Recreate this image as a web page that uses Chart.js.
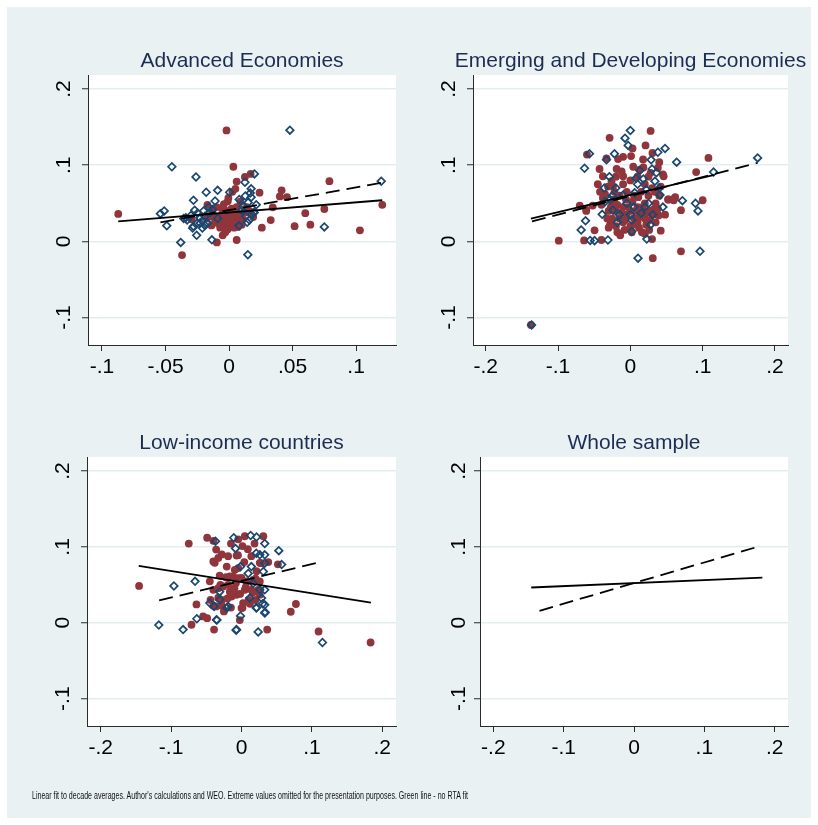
<!DOCTYPE html>
<html>
<head>
<meta charset="utf-8">
<title>Linear fits to decade averages</title>
<script src="https://cdn.jsdelivr.net/npm/chart.js@4.4.1/dist/chart.umd.min.js"></script>
<style>
  html, body { margin: 0; padding: 0; background: #ffffff; }
  #frame { position: relative; width: 818px; height: 825px; overflow: hidden; }
  #bg { position: absolute; left: 7px; top: 7px; width: 804px; height: 811px; background: #e9f1f3; }
  canvas { position: absolute; }
  #note {
    position: absolute; left: 32px; top: 790px;
    font: 11px "Liberation Sans", Arial, Helvetica, sans-serif; line-height: 1;
    color: #111; white-space: nowrap; transform-origin: 0 0;
  }
</style>
</head>
<body>
<div id="frame">
  <div id="bg"></div>
  <canvas id="cAdv" width="409" height="410" style="left:0px;top:0px"></canvas>
  <canvas id="cEme" width="409" height="410" style="left:409px;top:0px"></canvas>
  <canvas id="cLow" width="409" height="400" style="left:0px;top:410px"></canvas>
  <canvas id="cAll" width="409" height="400" style="left:409px;top:410px"></canvas>
  <div id="note">Linear fit to decade averages. Author's calculations and WEO. Extreme values omitted for the presentation purposes. Green line - no RTA fit</div>
</div>
<script>
// ---------------- data ----------------
// Panel titles
const titles = ['Advanced Economies', 'Emerging and Developing Economies', 'Low-income countries', 'Whole sample'];

// Axis ticks and their printed labels
const yTicks = [-0.1, 0, 0.1, 0.2];
const yTickLabels = ['-.1', '0', '.1', '.2'];
const xTicksAdv = [-0.1, -0.05, 0, 0.05, 0.1];
const xTickLabelsAdv = ['-.1', '-.05', '0', '.05', '.1'];
const xTicksWide = [-0.2, -0.1, 0, 0.1, 0.2];
const xTickLabelsWide = ['-.2', '-.1', '0', '.1', '.2'];

// Advanced economies: hollow diamonds [x, y]
const advDiamonds = [
  [0.0479, 0.146], [-0.045, 0.098], [-0.026, 0.0846], [0.020, 0.0886], [0.0125, 0.0776],
  [0.0174, 0.069], [-0.009, 0.067], [-0.018, 0.0645], [-0.011, 0.053], [-0.028, 0.054],
  [0.0005, 0.0645], [0.1198, 0.079], [0.075, 0.019], [0.0148, -0.0175], [-0.038, -0.0013],
  [-0.0135, 0.002], [-0.0255, 0.008], [-0.049, 0.0206], [-0.054, 0.0364], [-0.051, 0.040],
  [-0.0357, 0.030], [-0.028, 0.0197], [-0.021, 0.0175], [0.0078, 0.0206], [0.0143, 0.025],
  [0.018, 0.0355], [0.0195, 0.038], [0.0214, 0.048], [0.0174, 0.058], [0.0128, 0.0596],
  [-0.0247, 0.037], [0.011, 0.046], [-0.023, 0.031], [-0.021, 0.027], [-0.019, 0.033],
  [-0.017, 0.024], [-0.015, 0.038], [-0.013, 0.042], [-0.025, 0.024], [-0.030, 0.034],
  [-0.033, 0.028], [-0.020, 0.040], [-0.016, 0.045], [-0.009, 0.030], [0.013, 0.033],
  [0.016, 0.028], [0.010, 0.041], [0.015, 0.051], [0.008, 0.055], [-0.027, 0.041],
  [-0.034, 0.031], [-0.019, 0.021], [-0.0287, 0.0176], [-0.0227, 0.024], [0.0198, 0.038],
  [0.0167, 0.0634]
];
// Advanced economies: filled circles [x, y]
const advCircles = [
  [-0.0872, 0.036], [-0.002, 0.1456], [0.0034, 0.098], [-0.037, -0.018], [0.079, 0.079],
  [0.1206, 0.048], [0.103, 0.0145], [0.075, 0.0425], [0.060, 0.037], [0.064, 0.022],
  [0.0516, 0.020], [0.0414, 0.067], [0.040, 0.059], [0.0456, 0.058], [0.0344, 0.0447],
  [0.0328, 0.028], [0.0258, 0.018], [0.024, 0.064], [0.017, 0.0886], [0.0125, 0.0846],
  [0.006, 0.0785], [0.005, 0.069], [0.0026, 0.065], [-0.0005, 0.057], [-0.001, 0.0526],
  [0.009, 0.052], [0.006, 0.0018], [-0.005, 0.008], [-0.0096, -0.0013], [-0.0138, 0.021],
  [-0.017, 0.048], [-0.0294, 0.029], [0.0117, 0.039], [-0.006, 0.035], [-0.003, 0.030],
  [0.000, 0.033], [0.003, 0.028], [0.006, 0.031], [-0.004, 0.022], [0.001, 0.020],
  [0.004, 0.024], [0.008, 0.026], [-0.008, 0.028], [-0.002, 0.040], [0.002, 0.043],
  [0.005, 0.038], [-0.006, 0.044], [0.009, 0.034], [0.011, 0.029], [-0.001, 0.016],
  [-0.007, 0.018], [0.007, 0.019], [0.003, 0.036], [-0.012, 0.034], [-0.0175, 0.030],
  [-0.015, 0.033], [0.014, 0.045], [0.016, 0.040], [-0.004, 0.049], [-0.010, 0.045],
  [-0.009, 0.024], [-0.003, 0.026], [0.002, 0.031], [0.007, 0.036], [0.004, 0.018],
  [-0.005, 0.031], [0.000, 0.025], [0.010, 0.022], [-0.011, 0.027], [0.013, 0.038],
  [0.001, 0.037], [-0.003, 0.012], [0.006, 0.045], [0.019, 0.032], [-0.013, 0.040]
];
const advSolidFit = [[-0.0872, 0.0263], [0.1206, 0.054]];
const advDashedFit = [[-0.054, 0.025], [0.1198, 0.0768]];

// Emerging and developing economies
const emeDiamonds = [
  [-0.1366, -0.1096], [0.000, 0.1456], [-0.0074, 0.1355], [-0.003, 0.126], [-0.0565, 0.115],
  [-0.022, 0.115], [0.048, 0.122], [0.038, 0.117], [0.0287, 0.107], [0.064, 0.104],
  [0.176, 0.1096], [0.115, 0.091], [-0.0634, 0.096], [0.072, 0.0535], [0.090, 0.050],
  [0.0935, 0.040], [0.0963, -0.013], [0.0106, -0.022], [0.0227, 0.003], [0.0019, 0.013],
  [-0.031, 0.0018], [-0.0495, 0.001], [-0.0556, 0.0013], [-0.068, 0.015], [-0.062, 0.027],
  [-0.039, 0.0355], [-0.033, 0.107], [-0.029, 0.085], [-0.036, 0.070], [-0.035, 0.052],
  [-0.024, 0.041], [-0.010, 0.061], [0.006, 0.064], [0.022, 0.068], [0.034, 0.079],
  [0.041, 0.061], [0.031, 0.035], [0.028, 0.022], [0.015, 0.037], [0.036, 0.090],
  [0.030, 0.095], [0.013, 0.093], [-0.005, 0.050], [0.005, 0.045], [-0.015, 0.035],
  [0.025, 0.050], [-0.020, 0.070], [0.010, 0.075], [0.045, 0.045], [-0.028, 0.055],
  [0.018, 0.082], [0.002, 0.028], [-0.018, 0.025], [0.000, 0.035], [0.020, 0.045],
  [-0.025, 0.060], [0.008, 0.083], [0.040, 0.070]
];
const emeCircles = [
  [-0.1375, -0.1096], [-0.099, 0.001], [-0.064, 0.0013], [-0.040, 0.0018], [-0.0495, 0.0145],
  [-0.061, 0.040], [-0.070, 0.047], [-0.052, 0.047], [-0.060, 0.114], [-0.0287, 0.136],
  [0.028, 0.145], [0.021, 0.126], [0.0306, 0.116], [0.003, 0.122], [-0.033, 0.109],
  [0.108, 0.1096], [0.091, 0.091], [0.100, 0.054], [0.070, 0.041], [0.070, -0.013],
  [0.031, -0.022], [0.030, 0.003], [0.042, 0.014], [0.046, 0.0855], [0.039, 0.034],
  [0.053, 0.055], [0.060, 0.054], [0.062, 0.058], [0.040, 0.104], [0.038, 0.0965],
  [0.0176, 0.1075], [0.013, 0.094], [0.001, 0.112], [-0.010, 0.111], [-0.017, 0.108],
  [-0.019, 0.095], [-0.010, 0.0855], [-0.0426, 0.095], [-0.038, 0.0855], [-0.031, 0.072],
  [-0.026, 0.079], [-0.038, 0.057], [-0.040, 0.048], [-0.025, 0.050], [-0.020, 0.040],
  [-0.015, 0.030], [-0.010, 0.045], [-0.005, 0.035], [0.000, 0.040], [0.005, 0.030],
  [0.010, 0.045], [0.015, 0.035], [0.020, 0.050], [0.025, 0.040], [-0.025, 0.030],
  [-0.020, 0.020], [-0.010, 0.025], [0.000, 0.020], [0.010, 0.025], [0.020, 0.030],
  [0.030, 0.035], [-0.015, 0.060], [-0.005, 0.065], [0.005, 0.060], [0.015, 0.065],
  [0.025, 0.060], [-0.030, 0.040], [0.035, 0.050], [-0.008, 0.015], [0.002, 0.012],
  [0.012, 0.018], [0.022, 0.022], [-0.018, 0.012], [-0.022, 0.065], [0.030, 0.070],
  [0.020, 0.075], [-0.010, 0.075], [0.000, 0.080], [0.010, 0.085], [-0.020, 0.085],
  [0.025, 0.085], [-0.028, 0.022], [0.035, 0.025], [0.040, 0.060], [-0.035, 0.062],
  [0.045, 0.088], [0.052, 0.055], [0.059, 0.055], [-0.061, 0.0417], [-0.032, 0.030],
  [-0.027, 0.045], [-0.022, 0.055], [-0.018, 0.048], [-0.012, 0.038], [-0.007, 0.028],
  [-0.003, 0.045], [0.003, 0.052], [0.007, 0.040], [0.012, 0.032], [0.017, 0.045],
  [0.022, 0.038], [0.027, 0.028], [0.032, 0.042], [-0.030, 0.018], [-0.014, 0.008],
  [0.006, 0.022], [0.016, 0.012], [0.026, 0.015], [-0.024, 0.072], [-0.012, 0.092],
  [0.004, 0.098], [0.018, 0.097], [0.028, 0.090], [0.034, 0.065], [0.042, 0.072],
  [-0.042, 0.065], [-0.045, 0.075], [0.048, 0.035], [0.038, 0.043], [-0.006, 0.055],
  [0.011, 0.058], [0.020, 0.010]
];
const emeSolidFit = [[-0.1375, 0.0298], [0.1162, 0.0873]];
const emeDashedFit = [[-0.136, 0.0263], [0.176, 0.103]];

// Low-income countries
const lowDiamonds = [
  [-0.1175, -0.003], [-0.083, -0.009], [-0.096, 0.0485], [-0.066, 0.0546], [-0.0635, 0.0053],
  [-0.035, 0.0035], [-0.0076, -0.0097], [0.0237, -0.012], [0.115, -0.026], [0.053, 0.095],
  [0.057, 0.0767], [0.033, 0.1044], [0.0213, 0.113], [0.013, 0.115], [-0.011, 0.112],
  [-0.0085, 0.098], [-0.037, 0.1075], [0.030, 0.025], [0.0336, 0.014], [0.0213, 0.020],
  [-0.0014, 0.009], [-0.019, 0.0216], [-0.039, 0.0216], [-0.031, 0.041], [0.021, 0.0917],
  [0.026, 0.0895], [0.033, 0.0895], [0.033, 0.0785], [0.031, 0.0675], [0.014, 0.074],
  [-0.0014, 0.074], [0.0095, 0.065], [0.0165, 0.052], [0.026, 0.0434], [0.033, 0.0434],
  [0.0285, 0.0325], [-0.021, 0.0193], [-0.031, 0.0303], [0.0118, 0.0325], [0.021, 0.0193],
  [0.033, 0.0237], [0.033, 0.0128], [-0.0356, 0.004], [-0.045, 0.026], [-0.0071, -0.009]
];
const lowCircles = [
  [-0.1455, 0.0485], [-0.0749, 0.1044], [-0.0488, 0.112], [-0.040, 0.108], [-0.064, 0.0242],
  [-0.071, -0.0026], [-0.0545, 0.0084], [-0.0488, 0.006], [-0.039, -0.009], [-0.0024, 0.0035],
  [0.0014, 0.0198], [0.0365, -0.009], [0.070, 0.0145], [0.0773, 0.0247], [0.1095, -0.0115],
  [0.1834, -0.026], [0.0517, 0.077], [0.038, 0.080], [0.031, 0.114], [0.0047, 0.114],
  [-0.0047, 0.110], [0.0014, 0.101], [0.0185, 0.1044], [-0.015, 0.1044], [-0.036, 0.0965],
  [-0.033, 0.0855], [-0.019, 0.0877], [-0.007, 0.0885], [-0.038, 0.079], [-0.0047, 0.072],
  [0.014, 0.0877], [0.026, 0.079], [0.0213, 0.068], [-0.045, 0.0546], [-0.031, 0.062],
  [-0.019, 0.050], [-0.012, 0.061], [0.000, 0.059], [-0.040, 0.0224], [-0.036, 0.0215],
  [-0.028, 0.0224], [-0.040, 0.0434], [-0.033, 0.0456], [-0.026, 0.0478], [-0.0142, 0.0346],
  [-0.0071, 0.0368], [0.0023, 0.026], [0.000, 0.0193], [-0.021, 0.074], [-0.0095, 0.0697],
  [-0.0166, 0.061], [-0.0048, 0.0588], [0.007, 0.0544], [0.0165, 0.0566], [0.026, 0.0544],
  [0.0047, 0.0434], [0.014, 0.0434], [0.0236, 0.0434], [-0.0166, 0.041], [-0.033, 0.033],
  [-0.025, 0.015], [-0.015, 0.020], [0.010, 0.030], [0.020, 0.058], [0.028, 0.0785],
  [-0.005, 0.089], [-0.040, 0.0807], [0.016, 0.040], [0.026, 0.037], [-0.028, 0.030],
  [-0.020, 0.032], [-0.010, 0.045], [-0.002, 0.038], [0.006, 0.047], [0.012, 0.025],
  [-0.030, 0.050], [-0.022, 0.060], [-0.008, 0.052], [0.004, 0.080], [-0.028, 0.090],
  [0.009, 0.097], [-0.044, 0.030], [0.020, 0.030]
];
const lowSolidFit = [[-0.146, 0.0749], [0.1839, 0.0264]];
const lowDashedFit = [[-0.117, 0.0295], [0.1095, 0.0793]];

// Whole sample: fitted lines only
const allSolidFit = [[-0.1462, 0.0465], [0.1825, 0.0596]];
const allDashedFit = [[-0.1344, 0.0158], [0.1755, 0.100]];

// ---------------- drawing ----------------
const FONT = '"Liberation Sans", Arial, Helvetica, sans-serif';
const NAVY = '#1a476f';
const MAROON = '#90353b';
const TITLE_COLOR = '#1c2d52';
const AXIS_COLOR = '#2b2b2b';
const GRID_COLOR = '#e3edf0';

const toPts = arr => arr.map(([x, y]) => ({ x, y }));

// White plot region, vertical y tick labels and the panel heading
const panelDecor = {
  id: 'panelDecor',
  beforeDraw(chart) {
    const { ctx, chartArea: a } = chart;
    ctx.save();
    ctx.fillStyle = '#ffffff';
    ctx.fillRect(a.left, a.top, a.right - a.left, a.bottom - a.top);
    ctx.restore();
  },
  afterDraw(chart, args, opts) {
    const { ctx, chartArea: a } = chart;
    const ys = chart.scales.y;
    ctx.save();
    ctx.font = '21px ' + FONT;
    ctx.fillStyle = TITLE_COLOR;
    ctx.textAlign = 'center';
    ctx.textBaseline = 'alphabetic';
    ctx.fillText(opts.text, (a.left + a.right) / 2, a.top - 8);
    // y tick labels read bottom-to-top
    ctx.fillStyle = '#000';
    ctx.textBaseline = 'middle';
    ys.ticks.forEach(t => {
      const label = yTickLabels[yTicks.indexOf(t.value)];
      const py = ys.getPixelForValue(t.value);
      ctx.save();
      ctx.translate(a.left - opts.yLabelGap, py);
      ctx.rotate(-Math.PI / 2);
      ctx.fillText(label, 0, 0);
      ctx.restore();
    });
    ctx.restore();
  }
};

function fitLine(points, dashed) {
  return {
    type: 'line', data: toPts(points), showLine: true, pointRadius: 0,
    borderColor: '#000', borderWidth: 1.8, borderDash: dashed ? [14, 7] : [],
    fill: false, order: 0
  };
}

function makePanel(id, title, pad, yLabelGap, xRange, xTicks, xLabels, diamonds, circles, solid, dashed) {
  const datasets = [fitLine(solid, false), fitLine(dashed, true)];
  if (diamonds) {
    datasets.push({
      type: 'scatter', data: toPts(diamonds), pointStyle: 'rectRot', pointRadius: 3.8,
      borderColor: NAVY, backgroundColor: 'rgba(0,0,0,0)', borderWidth: 1.7, order: 1
    });
  }
  if (circles) {
    datasets.push({
      type: 'scatter', data: toPts(circles), pointStyle: 'circle', pointRadius: 3.9,
      borderColor: MAROON, backgroundColor: MAROON, borderWidth: 0, order: 2
    });
  }
  return new Chart(document.getElementById(id), {
    type: 'scatter',
    data: { datasets },
    plugins: [panelDecor],
    options: {
      responsive: false, animation: false, devicePixelRatio: 1,
      layout: { padding: pad },
      plugins: {
        legend: { display: false }, tooltip: { enabled: false },
        panelDecor: { text: title, yLabelGap }
      },
      scales: {
        x: {
          type: 'linear', min: xRange[0], max: xRange[1],
          afterBuildTicks: s => { s.ticks = xTicks.map(v => ({ value: v })); },
          afterFit: s => { s.height = 40; s.paddingLeft = 0; s.paddingRight = 0; },
          ticks: {
            callback: (v, i) => xLabels[i], autoSkip: false, maxRotation: 0,
            font: { family: FONT, size: 21 }, color: '#000', padding: 4
          },
          grid: { drawOnChartArea: false, drawTicks: true, tickLength: 6, tickColor: AXIS_COLOR, tickWidth: 1 },
          border: { display: true, color: AXIS_COLOR, width: 1 }
        },
        y: {
          type: 'linear', min: -0.136, max: 0.2184,
          afterBuildTicks: s => { s.ticks = yTicks.map(v => ({ value: v })); },
          afterFit: s => { s.width = 30; s.paddingTop = 0; s.paddingBottom = 0; },
          ticks: { display: false, autoSkip: false },
          grid: { color: GRID_COLOR, lineWidth: 1.5, drawTicks: true, tickLength: 6, tickColor: AXIS_COLOR, tickWidth: 1 },
          border: { display: true, color: AXIS_COLOR, width: 1 }
        }
      }
    }
  });
}

makePanel('cAdv', titles[0], { left: 58, top: 75, right: 13, bottom: 25 }, 24, [-0.111, 0.1314],
  xTicksAdv, xTickLabelsAdv, advDiamonds, advCircles, advSolidFit, advDashedFit);
makePanel('cEme', titles[1], { left: 34, top: 75, right: 30, bottom: 25 }, 24, [-0.2176, 0.218],
  xTicksWide, xTickLabelsWide, emeDiamonds, emeCircles, emeSolidFit, emeDashedFit);
makePanel('cLow', titles[2], { left: 57, top: 47, right: 13, bottom: 44 }, 24, [-0.2195, 0.2195],
  xTicksWide, xTickLabelsWide, lowDiamonds, lowCircles, lowSolidFit, lowDashedFit);
makePanel('cAll', titles[3], { left: 41, top: 47, right: 30, bottom: 44 }, 21, [-0.219, 0.219],
  xTicksWide, xTickLabelsWide, null, null, allSolidFit, allDashedFit);

// Footnote set in a condensed width
const note = document.getElementById('note');
const natural = note.getBoundingClientRect().width;
note.style.transform = 'scaleX(' + (436 / natural) + ')';
</script>
</body>
</html>
